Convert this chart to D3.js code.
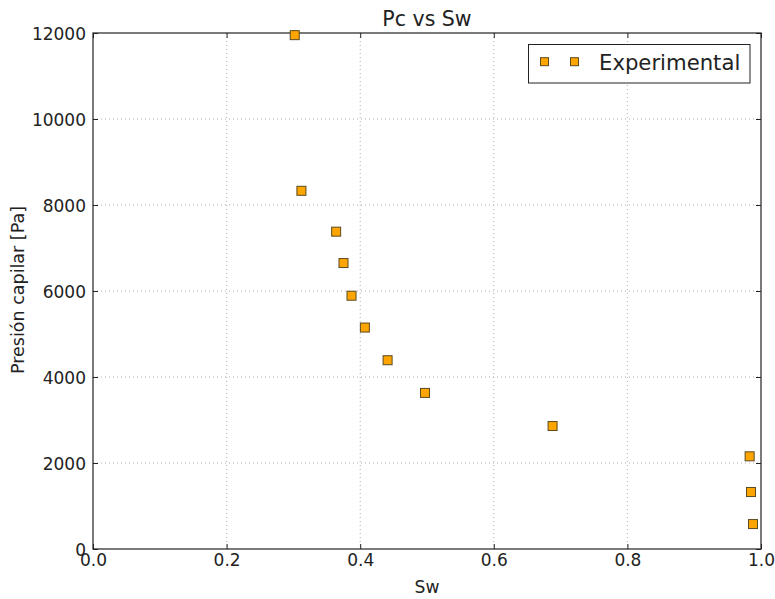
<!DOCTYPE html>
<html><head><meta charset="utf-8">
<script src="https://cdn.jsdelivr.net/npm/d3@7"></script>
<style>body{margin:0;background:#fff;} svg{display:block;font-family:"DejaVu Sans",sans-serif;}</style>
</head><body>
<script>
const swValues = [0.302, 0.312, 0.364, 0.375, 0.387, 0.407, 0.441, 0.497, 0.688, 0.983, 0.985, 0.988];
const pcValues = [11950, 8330, 7380, 6650, 5890, 5150, 4390, 3630, 2860, 2155, 1325, 580];
const xTicks = [0.0, 0.2, 0.4, 0.6, 0.8, 1.0];
const yTicks = [0, 2000, 4000, 6000, 8000, 10000, 12000];
const seriesName = "Experimental";

const W = 775, H = 599;
const m = {l: 93, r: 14, t: 33, b: 50};
const svg = d3.select("body").append("svg").attr("width", W).attr("height", H);
const x = d3.scaleLinear().domain([0, 1]).range([m.l, W - m.r]);
const y = d3.scaleLinear().domain([0, 12000]).range([H - m.b, m.t]);

// grid
const g = svg.append("g");
g.selectAll(".gx").data(xTicks.slice(1, -1)).join("line")
  .attr("x1", d => x(d)).attr("x2", d => x(d)).attr("y1", m.t).attr("y2", H - m.b)
  .attr("stroke", "#b0b0b0").attr("stroke-width", 1).attr("stroke-dasharray", "1,3");
g.selectAll(".gy").data(yTicks.slice(1, -1)).join("line")
  .attr("y1", d => y(d)).attr("y2", d => y(d)).attr("x1", m.l).attr("x2", W - m.r)
  .attr("stroke", "#b0b0b0").attr("stroke-width", 1).attr("stroke-dasharray", "1,3");

// axes with inward ticks
const fmtX = d3.format(".1f");
const ax = svg.append("g").attr("transform", `translate(0,${H - m.b})`)
  .call(d3.axisBottom(x).tickValues(xTicks).tickFormat(fmtX).tickSize(-5).tickPadding(4.5));
const axTop = svg.append("g").attr("transform", `translate(0,${m.t})`)
  .call(d3.axisTop(x).tickValues(xTicks).tickFormat("").tickSize(-5));
const ay = svg.append("g").attr("transform", `translate(${m.l},0)`)
  .call(d3.axisLeft(y).tickValues(yTicks).tickFormat(d3.format("d")).tickSize(-5).tickPadding(7));
const ayR = svg.append("g").attr("transform", `translate(${W - m.r},0)`)
  .call(d3.axisRight(y).tickValues(yTicks).tickFormat("").tickSize(-5));
[ax, axTop, ay, ayR].forEach(a => {
  a.select(".domain").remove();
  a.selectAll("line").attr("stroke", "#222");
  a.selectAll("text").attr("font-size", 17).attr("fill", "#222").attr("font-family", "DejaVu Sans");
});
ay.selectAll("text").attr("dy", "0.36em");

svg.append("rect").attr("x", m.l).attr("y", m.t).attr("width", W - m.r - m.l).attr("height", H - m.b - m.t)
  .attr("fill", "none").attr("stroke", "#222").attr("stroke-width", 1.2);

// points
const ms = 9;
svg.append("g").selectAll("rect").data(swValues.map((s, i) => [s, pcValues[i]])).join("rect")
  .attr("x", d => x(d[0]) - ms / 2).attr("y", d => y(d[1]) - ms / 2)
  .attr("width", ms).attr("height", ms)
  .attr("fill", "#FFA500").attr("stroke", "#5a4a20").attr("stroke-width", 1);

// title and labels
svg.append("text").attr("x", (m.l + W - m.r) / 2).attr("y", 26).attr("text-anchor", "middle")
  .attr("font-size", 20.5).attr("fill", "#222").text("Pc vs Sw");
svg.append("text").attr("x", (m.l + W - m.r) / 2).attr("y", 593).attr("text-anchor", "middle")
  .attr("font-size", 17.2).attr("fill", "#222").text("Sw");
svg.append("text").attr("transform", `translate(24,${(m.t + H - m.b) / 2 - 1}) rotate(-90)`).attr("text-anchor", "middle")
  .attr("font-size", 17.5).attr("fill", "#222").text("Presión capilar [Pa]");

// legend
const lg = svg.append("g");
lg.append("rect").attr("x", 528.5).attr("y", 44.5).attr("width", 221.5).attr("height", 38.5)
  .attr("fill", "#fff").attr("stroke", "#222").attr("stroke-width", 1);
[544.5, 574.5].forEach(cx => lg.append("rect").attr("x", cx - 4).attr("y", 61.7 - 4).attr("width", 8).attr("height", 8)
  .attr("fill", "#FFA500").attr("stroke", "#5a4a20").attr("stroke-width", 1));
lg.append("text").attr("x", 599).attr("y", 70).attr("font-size", 21.2).attr("fill", "#222").text(seriesName);
</script>
</body></html>
